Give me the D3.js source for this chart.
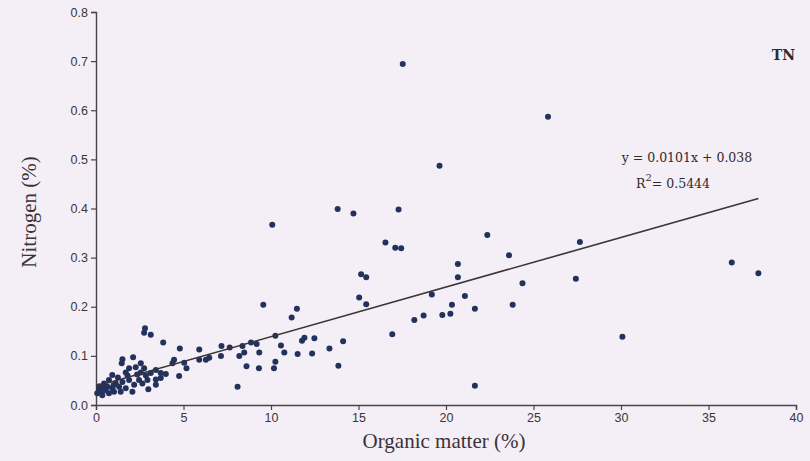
<!DOCTYPE html>
<html>
<head>
<meta charset="utf-8">
<script src="https://cdn.jsdelivr.net/npm/d3@7"></script>
<style>
  html, body { margin: 0; padding: 0; background: #f4eef6; }
  svg { display: block; }
</style>
</head>
<body>
<svg id="chart" width="810" height="461"></svg>
<script>
// Organic matter (%) of each sample
const organicMatter = [
  17.53, 25.83, 19.63, 13.81, 14.71, 17.29, 10.07, 16.54, 17.10, 17.44,
  15.15, 15.44, 15.04, 15.44, 20.68, 20.68, 22.36, 23.60, 27.65, 27.42,
  24.37, 23.81, 21.08, 20.34, 21.65, 19.19, 19.79, 20.25, 18.72, 18.19,
  16.93, 14.12, 13.34, 13.85, 21.65, 30.08, 36.33, 37.85,
  9.56, 11.48, 11.18, 10.25, 10.57, 10.76, 11.77, 11.91, 12.48, 11.52,
  12.35, 10.25, 10.17, 9.31, 8.60, 9.33, 8.47, 8.19, 9.18, 8.86,
  8.37, 7.64, 7.17, 5.90, 4.79, 3.84, 7.14, 6.47, 6.28, 5.90,
  5.17, 5.04, 4.46, 4.37, 4.75, 3.99, 3.70, 8.09, 2.75, 3.13, 2.80,
  1.51, 2.12, 2.56, 1.47, 1.89, 2.27, 1.70, 2.56, 2.75, 2.94,
  2.99, 3.42, 0.93, 0.74, 0.46, 1.13, 0.17, 0.07, 0.36, 0.74,
  1.03, 1.41, 1.70, 2.08, 2.18, 2.46, 1.89, 1.51, 1.32, 0.93,
  0.65, 0.36, 2.65, 3.13, 3.42, 3.42, 0.30, 0.55, 1.25, 1.80,
  2.35, 2.85, 3.70, 1.00, 0.20
];
// Total nitrogen (%) of the same samples
const nitrogen = [
  0.694, 0.587, 0.487, 0.399, 0.390, 0.398, 0.367, 0.331, 0.320, 0.319,
  0.266, 0.260, 0.219, 0.205, 0.287, 0.260, 0.346, 0.305, 0.332, 0.257,
  0.248, 0.204, 0.222, 0.204, 0.196, 0.225, 0.183, 0.186, 0.182, 0.173,
  0.144, 0.130, 0.115, 0.080, 0.039, 0.139, 0.290, 0.268,
  0.204, 0.196, 0.178, 0.141, 0.121, 0.107, 0.131, 0.137, 0.136, 0.104,
  0.105, 0.088, 0.075, 0.075, 0.079, 0.107, 0.107, 0.100, 0.124, 0.127,
  0.120, 0.117, 0.120, 0.113, 0.115, 0.127, 0.100, 0.096, 0.092, 0.092,
  0.075, 0.086, 0.092, 0.085, 0.059, 0.063, 0.065, 0.037, 0.147, 0.143, 0.156,
  0.093, 0.097, 0.085, 0.085, 0.075, 0.077, 0.066, 0.066, 0.075, 0.051,
  0.032, 0.052, 0.061, 0.051, 0.044, 0.044, 0.031, 0.024, 0.020, 0.024,
  0.027, 0.027, 0.034, 0.027, 0.041, 0.051, 0.051, 0.047, 0.037, 0.034,
  0.037, 0.034, 0.044, 0.065, 0.071, 0.041, 0.027, 0.030, 0.056, 0.060,
  0.062, 0.060, 0.055, 0.040, 0.038
];

const xTicks = [0, 5, 10, 15, 20, 25, 30, 35, 40];
const yTicks = [0.0, 0.1, 0.2, 0.3, 0.4, 0.5, 0.6, 0.7, 0.8];

// Linear fit reported on the chart
const fitSlope = 0.0101;
const fitIntercept = 0.038;
const fitR2 = 0.5444;
const fitRange = [0, 37.85];

const svg = d3.select("#chart");

const x = d3.scaleLinear().domain([0, 40]).range([96, 796]);
const y = d3.scaleLinear().domain([0, 0.8]).range([405, 12]);

const axisColor = "#4a4448";
const tickFont = "'Liberation Sans Narrow', 'Liberation Sans', Arial, sans-serif";
const serifFont = "'DejaVu Serif', 'Liberation Serif', serif";

// x axis
const xAxis = svg.append("g")
  .attr("transform", `translate(0,${y(0)})`)
  .call(d3.axisBottom(x).tickValues(xTicks).tickFormat(d3.format("d")).tickSizeOuter(0).tickSize(5).tickPadding(3));

// y axis
const yAxis = svg.append("g")
  .attr("transform", `translate(${x(0)},0)`)
  .call(d3.axisLeft(y).tickValues(yTicks).tickFormat(d3.format(".1f")).tickSizeOuter(0).tickSize(5).tickPadding(3));

[xAxis, yAxis].forEach(g => {
  g.select(".domain").attr("stroke", axisColor).attr("stroke-width", 1.4);
  g.selectAll(".tick line").attr("stroke", axisColor).attr("stroke-width", 1.2);
  g.selectAll(".tick text")
    .attr("fill", "#3c3538")
    .style("font-family", tickFont)
    .style("font-size", "12.5px");
});

// scatter points
const points = organicMatter.map((om, i) => ({ om, n: nitrogen[i] }));
svg.append("g")
  .selectAll("circle")
  .data(points)
  .join("circle")
  .attr("cx", d => x(d.om))
  .attr("cy", d => y(d.n))
  .attr("r", 3)
  .attr("fill", "#22325c");

// regression line
svg.append("line")
  .attr("x1", x(fitRange[0]))
  .attr("y1", y(fitIntercept + fitSlope * fitRange[0]))
  .attr("x2", x(fitRange[1]))
  .attr("y2", y(fitIntercept + fitSlope * fitRange[1]))
  .attr("stroke", "#3a3537")
  .attr("stroke-width", 1.6);

// equation and R²
svg.append("text")
  .attr("x", 687).attr("y", 162)
  .attr("text-anchor", "middle")
  .attr("fill", "#2f2a2d")
  .style("font-family", serifFont)
  .style("font-size", "12.5px")
  .text(`y = ${fitSlope}x + ${fitIntercept}`);

const r2 = svg.append("text")
  .attr("x", 636).attr("y", 188)
  .attr("fill", "#2f2a2d")
  .style("font-family", serifFont)
  .style("font-size", "12.5px");
r2.append("tspan").text("R");
r2.append("tspan").text("2").attr("dy", -7).style("font-size", "10px");
r2.append("tspan").text("=").attr("dy", 7);
r2.append("tspan").text(` ${fitR2}`);

// panel tag
svg.append("text")
  .attr("x", 795).attr("y", 60)
  .attr("text-anchor", "end")
  .attr("fill", "#2f2a2d")
  .style("font-family", serifFont)
  .style("font-weight", "bold")
  .style("font-size", "14px")
  .text("TN");

// axis titles
svg.append("text")
  .attr("x", 444).attr("y", 448)
  .attr("text-anchor", "middle")
  .attr("fill", "#3a3336")
  .style("font-family", "'Liberation Serif', serif")
  .style("font-size", "21px")
  .text("Organic matter (%)");

svg.append("text")
  .attr("transform", `translate(36,212) rotate(-90)`)
  .attr("text-anchor", "middle")
  .attr("fill", "#3a3336")
  .style("font-family", "'Liberation Serif', serif")
  .style("font-size", "21px")
  .text("Nitrogen (%)");
</script>
</body>
</html>
